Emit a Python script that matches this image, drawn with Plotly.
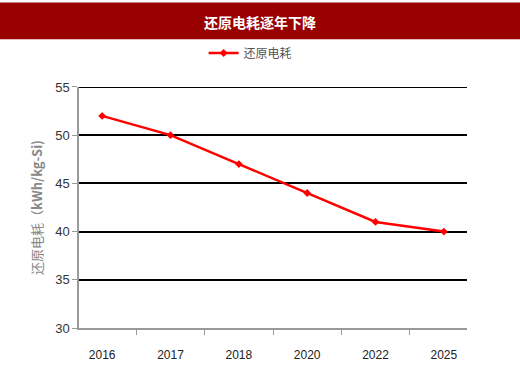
import plotly.graph_objects as go

years = ["2016", "2017", "2018", "2020", "2022", "2025"]
consumption = [52, 50, 47, 44, 41, 40]
series_name = "还原电耗"
chart_title = "还原电耗逐年下降"
y_title = "还原电耗（<b>kWh/kg-Si)</b>"
y_min, y_max, y_step = 30, 55, 5

fig = go.Figure()
fig.add_trace(go.Scatter(
    x=years, y=consumption, name=series_name, mode="lines+markers",
    line=dict(color="#FF0000", width=2.5),
    marker=dict(symbol="diamond", size=6, color="#FF0000"),
))

W, H = 520, 374
ml, mr, mt, mb = 79, 53, 85, 41
pw, ph = W - ml - mr, H - mt - mb

# title bar
fig.add_shape(type="rect", xref="paper", yref="paper",
              x0=-ml / pw, x1=(W - ml) / pw,
              y0=(ph + mt - 36) / ph, y1=(ph + mt + 2) / ph,
              fillcolor="#990000", line_width=0, layer="below")
fig.add_annotation(text="<b>" + chart_title + "</b>", xref="paper", yref="paper",
                   x=(W / 2 - ml) / pw, y=(ph + mt - 18) / ph,
                   showarrow=False, xanchor="center", yanchor="middle",
                   font=dict(family="Noto Sans CJK SC", size=14, color="white"))

# top gridline (plotly omits the gridline at the range edge)
fig.add_shape(type="line", xref="paper", yref="y", x0=0, x1=1,
              y0=y_max, y1=y_max, line=dict(color="black", width=2))

fig.update_layout(
    width=W, height=H,
    margin=dict(l=ml, r=mr, t=mt, b=mb),
    paper_bgcolor="white", plot_bgcolor="white",
    showlegend=True,
    legend=dict(orientation="h", x=230 / W, xanchor="center",
                y=1 - 53 / H, yanchor="middle", yref="container",
                font=dict(family="Noto Sans CJK SC", size=12, color="#555"),
                bgcolor="rgba(0,0,0,0)"),
    font=dict(family="Liberation Sans, Arial", size=12, color="#333"),
)
fig.update_xaxes(
    type="category", tickson="boundaries", ticks="outside", ticklen=5,
    tickcolor="#999", showline=True, linecolor="#999", linewidth=1.5,
    showgrid=False, tickfont=dict(size=12, color="#222"),
    ticklabelstandoff=15,
)
fig.update_yaxes(
    range=[y_min, y_max], dtick=y_step, tick0=y_min, ticks="outside", ticklen=5,
    tickcolor="#999", showline=True, linecolor="#999", linewidth=1.5,
    showgrid=True, gridcolor="black", gridwidth=2, zeroline=False,
    tickfont=dict(size=13, color="#333"),
    title=dict(text=y_title, standoff=10,
               font=dict(family="Noto Sans CJK SC", size=13, color="#888")),
)

fig.write_html("out.html", config={"displayModeBar": False},
               post_script="document.body.style.margin='0';")
